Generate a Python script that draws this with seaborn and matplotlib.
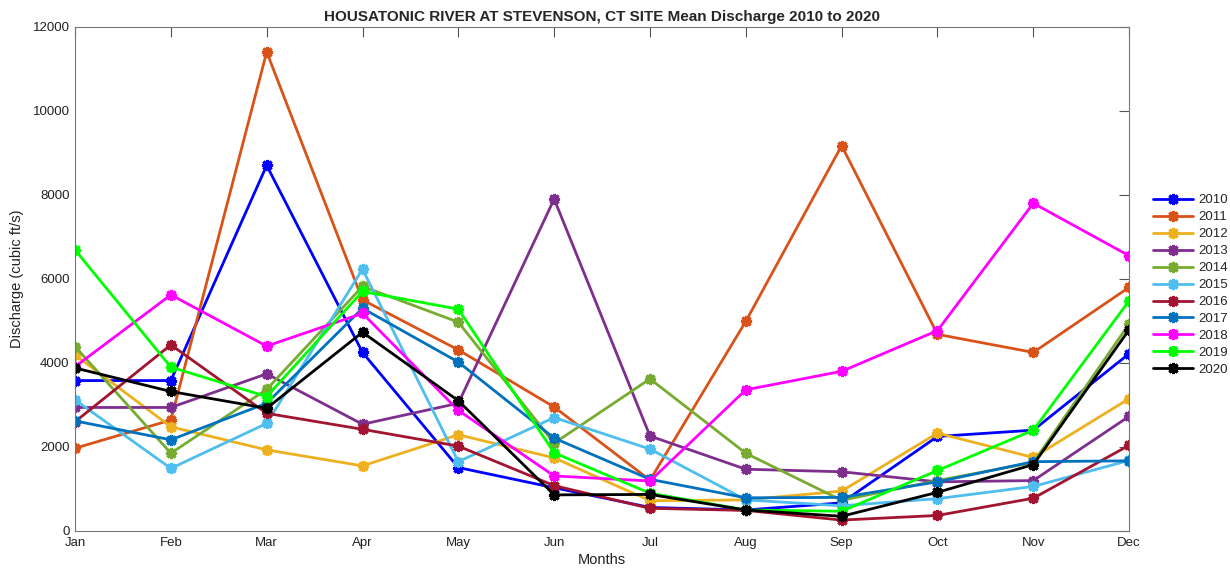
import numpy as np
import pandas as pd
import matplotlib
matplotlib.use("Agg")
import matplotlib.pyplot as plt
import seaborn as sns

months = ["Jan", "Feb", "Mar", "Apr", "May", "Jun", "Jul", "Aug", "Sep", "Oct", "Nov", "Dec"]
years = ["2010", "2011", "2012", "2013", "2014", "2015", "2016", "2017", "2018", "2019", "2020"]

# Monthly mean discharge (cubic ft/s), one list per year
q2010 = [3580, 3580, 8700, 4250, 1510, 1030, 560, 500, 670, 2250, 2400, 4220]
q2011 = [1970, 2640, 11400, 5500, 4310, 2950, 1210, 4990, 9170, 4680, 4250, 5800]
q2012 = [4190, 2480, 1930, 1550, 2290, 1740, 720, 740, 950, 2330, 1750, 3150]
q2013 = [2940, 2940, 3740, 2540, 3040, 7900, 2260, 1470, 1410, 1170, 1200, 2730]
q2014 = [4390, 1850, 3370, 5820, 4970, 2090, 3620, 1850, 730, 1200, 1630, 4930]
q2015 = [3120, 1490, 2560, 6230, 1650, 2700, 1950, 740, 600, 770, 1060, 1680]
q2016 = [2600, 4430, 2800, 2420, 2020, 1080, 540, 490, 260, 370, 780, 2040]
q2017 = [2620, 2170, 3040, 5300, 4020, 2210, 1230, 790, 800, 1170, 1650, 1670]
q2018 = [3910, 5620, 4400, 5180, 2870, 1310, 1190, 3360, 3800, 4770, 7800, 6550]
q2019 = [6690, 3900, 3200, 5700, 5280, 1860, 900, 500, 470, 1440, 2400, 5480]
q2020 = [3880, 3320, 2920, 4730, 3100, 860, 870, 500, 350, 920, 1580, 4790]

series = [q2010, q2011, q2012, q2013, q2014, q2015, q2016, q2017, q2018, q2019, q2020]

colors = ["#0000FF", "#D95319", "#EDB120", "#7E2F8E", "#77AC30", "#4DBEEE",
          "#A2142F", "#0072BD", "#FF00FF", "#00FF00", "#000000"]

yticks = [0, 2000, 4000, 6000, 8000, 10000, 12000]

df = pd.DataFrame({
    "month": np.tile(np.arange(len(months)), len(years)),
    "year": np.repeat(years, len(months)),
    "discharge": np.concatenate(series),
})

sns.set_theme(style="white")
plt.rcParams["font.family"] = ["Liberation Sans", "DejaVu Sans"]

fig = plt.figure(figsize=(12.3, 5.73), dpi=100)
ax = fig.add_axes([0.061, 0.0733, 0.857, 0.880])

# MATLAB-style asterisk markers drawn in each year's own colour
asterisk = (8, 2, 0)
for yr, col in zip(years, colors):
    sub = df[df["year"] == yr]
    sns.lineplot(data=sub, x="month", y="discharge", color=col, label=yr,
                 marker=asterisk, markersize=8, markeredgewidth=2.2,
                 markeredgecolor=col, markerfacecolor=col, linewidth=2.0,
                 ax=ax)

ax.set_xlim(0, len(months) - 1)
ax.set_ylim(0, 12000)
ax.set_xticks(np.arange(len(months)))
ax.set_xticklabels(months)
ax.set_yticks(yticks)
ax.set_yticklabels([str(v) for v in yticks])
ax.tick_params(direction="in", top=True, right=True, length=7, width=0.8,
               color="#555555", labelsize=9.5, labelcolor="#222222", pad=4)
for sp in ax.spines.values():
    sp.set_color("#777777")
    sp.set_linewidth(0.8)

ax.set_xlabel("Months", fontsize=10.5, color="#222222", labelpad=3)
ax.set_ylabel("Discharge (cubic ft/s)", fontsize=10.5, color="#222222", labelpad=6)
ax.set_title("HOUSATONIC RIVER AT STEVENSON, CT SITE Mean Discharge 2010 to 2020",
             fontsize=11, fontweight="bold", pad=4)

handles, labels = ax.get_legend_handles_labels()
ax.legend(handles, labels, loc="upper left", bbox_to_anchor=(0.932, 0.673),
          bbox_transform=fig.transFigure, frameon=False, fontsize=9.5,
          handlelength=3.0, labelspacing=0.36, borderpad=0, handletextpad=0.4)

fig.savefig("out.png", dpi=100)
